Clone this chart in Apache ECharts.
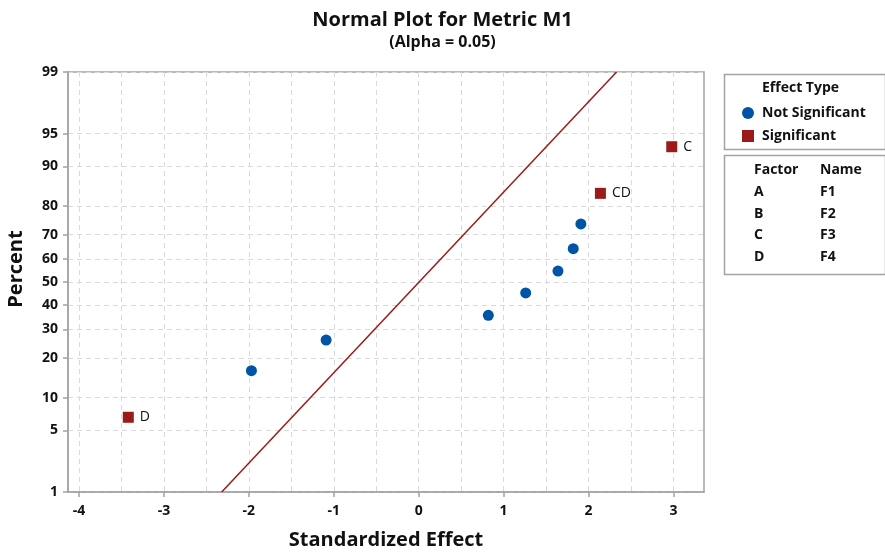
<!DOCTYPE html>
<html>
<head>
<meta charset="utf-8">
<script src="https://cdn.jsdelivr.net/npm/echarts@6/dist/echarts.min.js"></script>
<style>html,body{margin:0;padding:0;background:#fff}#c{width:885px;height:552px}</style>
</head>
<body>
<div id="c"></div>
<script>
// ---- data ----
const effects   = [-3.42, -1.97, -1.09, 0.82, 1.26, 1.64, 1.82, 1.91, 2.14, 2.98];
const percents  = [6.7, 16.3, 26.0, 35.6, 45.2, 54.8, 64.4, 74.0, 83.7, 93.3];
const significant = [true, false, false, false, false, false, false, false, true, true];
const pointLabels = ['D', '', '', '', '', '', '', '', 'CD', 'C'];
const refLineEffects  = [-2.32, 2.33];
const refLinePercents = [1, 99];
const yTickPercents = [1, 5, 10, 20, 30, 40, 50, 60, 70, 80, 90, 95, 99];
const xTickLabels = [-4, -3, -2, -1, 0, 1, 2, 3];
const xGridValues = [-4, -3.5, -3, -2.5, -2, -1.5, -1, -0.5, 0, 0.5, 1, 1.5, 2, 2.5, 3];
const effectTypes = ['Not Significant', 'Significant'];
const factorCodes = ['A', 'B', 'C', 'D'];
const factorNames = ['F1', 'F2', 'F3', 'F4'];

// inverse standard normal CDF (Acklam)
function probit(p) {
  const a = [-3.969683028665376e+01, 2.209460984245205e+02, -2.759285104469687e+02, 1.383577518672690e+02, -3.066479806614716e+01, 2.506628277459239e+00];
  const b = [-5.447609879822406e+01, 1.615858368580409e+02, -1.556989798598866e+02, 6.680131188771972e+01, -1.328068155288572e+01];
  const c = [-7.784894002430293e-03, -3.223964580411365e-01, -2.400758277161838e+00, -2.549732539343734e+00, 4.374664141464968e+00, 2.938163982698783e+00];
  const d = [7.784695709041462e-03, 3.224671290700398e-01, 2.445134137142996e+00, 3.754408661907416e+00];
  const pl = 0.02425, ph = 1 - pl;
  let q, r;
  if (p < pl) { q = Math.sqrt(-2 * Math.log(p)); return (((((c[0]*q+c[1])*q+c[2])*q+c[3])*q+c[4])*q+c[5]) / ((((d[0]*q+d[1])*q+d[2])*q+d[3])*q+1); }
  if (p <= ph) { q = p - 0.5; r = q*q; return (((((a[0]*r+a[1])*r+a[2])*r+a[3])*r+a[4])*r+a[5])*q / (((((b[0]*r+b[1])*r+b[2])*r+b[3])*r+b[4])*r+1); }
  q = Math.sqrt(-2 * Math.log(1 - p)); return -(((((c[0]*q+c[1])*q+c[2])*q+c[3])*q+c[4])*q+c[5]) / ((((d[0]*q+d[1])*q+d[2])*q+d[3])*q+1);
}
const z = pct => probit(pct / 100);
const yTickZ = yTickPercents.map(z);
const yMin = z(1), yMax = z(99);
const xMin = -4.13, xMax = 3.36;

const FONT = 'Open Sans';
const BLUE = '#0054a6', RED = '#9b1a1a', AXIS = '#a3a3a3', GRID = '#d9d9d9';
const W = 'bold';

const notSigData = [], sigData = [];
effects.forEach((e, i) => {
  const item = { value: [e, z(percents[i])], name: pointLabels[i] };
  (significant[i] ? sigData : notSigData).push(item);
});

const txt = (t, x, y) => ({ type: 'text', left: x, top: y, style: { text: t, font: W + ' 14px "' + FONT + '"', fill: '#111' } });
const graphics = [
  { type: 'rect', left: 722, top: 72, shape: { width: 161, height: 75 }, style: { fill: 'none', stroke: AXIS, lineWidth: 1.5 } },
  { type: 'rect', left: 722, top: 153, shape: { width: 161, height: 119 }, style: { fill: 'none', stroke: AXIS, lineWidth: 1.5 } },
  txt('Effect Type', 762, 81),
  txt('Factor', 754, 163),
  txt('Name', 820, 163)
];
factorCodes.forEach((f, i) => {
  graphics.push(txt(f, 754, 185 + i * 21.7));
  graphics.push(txt(factorNames[i], 820, 185 + i * 21.7));
});

const chart = echarts.init(document.getElementById('c'), null, { renderer: 'canvas' });
chart.setOption({
  animation: false,
  backgroundColor: '#fff',
  textStyle: { fontFamily: FONT },
  title: {
    text: 'Normal Plot for Metric M1',
    subtext: '(Alpha = 0.05)',
    left: 'center', top: 5, itemGap: 4,
    textStyle: { fontFamily: FONT, fontSize: 20, fontWeight: 'bold', color: '#111' },
    subtextStyle: { fontFamily: FONT, fontSize: 16, fontWeight: 'bold', color: '#111' }
  },
  legend: {
    data: [{ name: effectTypes[0], icon: 'circle' }, { name: effectTypes[1], icon: 'rect' }],
    orient: 'vertical', left: 737, top: 101, itemWidth: 12, itemHeight: 12, itemGap: 9,
    selectedMode: false,
    textStyle: { fontFamily: FONT, fontSize: 14, fontWeight: W, color: '#111', padding: [0, 0, 0, 3] }
  },
  graphic: graphics,
  grid: { left: 68, right: 181, top: 72, bottom: 60, outerBoundsMode: 'none', containLabel: false, show: true, borderColor: AXIS, borderWidth: 1.5, backgroundColor: '#fff' },
  xAxis: [
    {
      type: 'value', min: xMin, max: xMax, position: 'bottom',
      name: 'Standardized Effect', nameLocation: 'middle', nameGap: 38,
      nameTextStyle: { fontFamily: FONT, fontSize: 20, fontWeight: W, color: '#111' },
      axisLine: { show: true, onZero: false, lineStyle: { color: AXIS, width: 1.5 } },
      axisTick: { show: true, length: 5, customValues: xTickLabels, lineStyle: { color: AXIS, width: 1.5 } },
      axisLabel: { customValues: xTickLabels, margin: 12, fontFamily: FONT, fontSize: 14, fontWeight: W, color: '#111' },
      splitLine: { show: false }
    },
    {
      type: 'value', min: xMin, max: xMax, position: 'bottom',
      axisLine: { show: false, onZero: false }, axisLabel: { show: false },
      axisTick: { show: false, customValues: xGridValues },
      splitLine: { show: true, lineStyle: { color: GRID, type: [5, 4], width: 1 } }
    }
  ],
  yAxis: {
    type: 'value', min: yMin, max: yMax,
    name: 'Percent', nameLocation: 'middle', nameGap: 42, nameRotate: 90,
    nameTextStyle: { fontFamily: FONT, fontSize: 20, fontWeight: W, color: '#111', padding: [0, 0, 0, 26] },
    axisLine: { show: true, onZero: false, lineStyle: { color: AXIS, width: 1.5 } },
    axisTick: { show: true, length: 5, customValues: yTickZ, lineStyle: { color: AXIS, width: 1.5 } },
    axisLabel: {
      customValues: yTickZ, margin: 10, fontFamily: FONT, fontSize: 14, fontWeight: W, color: '#111',
      formatter: v => { let best = 0; yTickZ.forEach((t, i) => { if (Math.abs(t - v) < Math.abs(yTickZ[best] - v)) best = i; }); return String(yTickPercents[best]); }
    },
    splitLine: { show: true, lineStyle: { color: GRID, type: [5, 4], width: 1 } }
  },
  series: [
    {
      name: 'Reference', type: 'line', xAxisIndex: 0, showSymbol: false, silent: true,
      data: refLineEffects.map((e, i) => [e, z(refLinePercents[i])]),
      lineStyle: { color: RED, width: 1.5 }, z: 3
    },
    {
      name: effectTypes[0], type: 'scatter', xAxisIndex: 0, symbol: 'circle', symbolSize: 11,
      itemStyle: { color: BLUE, opacity: 1 }, data: notSigData, z: 4
    },
    {
      name: effectTypes[1], type: 'scatter', xAxisIndex: 0, symbol: 'rect', symbolSize: 11,
      itemStyle: { color: RED, opacity: 1 }, data: sigData, z: 4,
      label: { show: true, position: 'right', distance: 6, formatter: p => p.name, fontFamily: FONT, fontSize: 14, color: '#111' }
    }
  ]
});
</script>
</body>
</html>
